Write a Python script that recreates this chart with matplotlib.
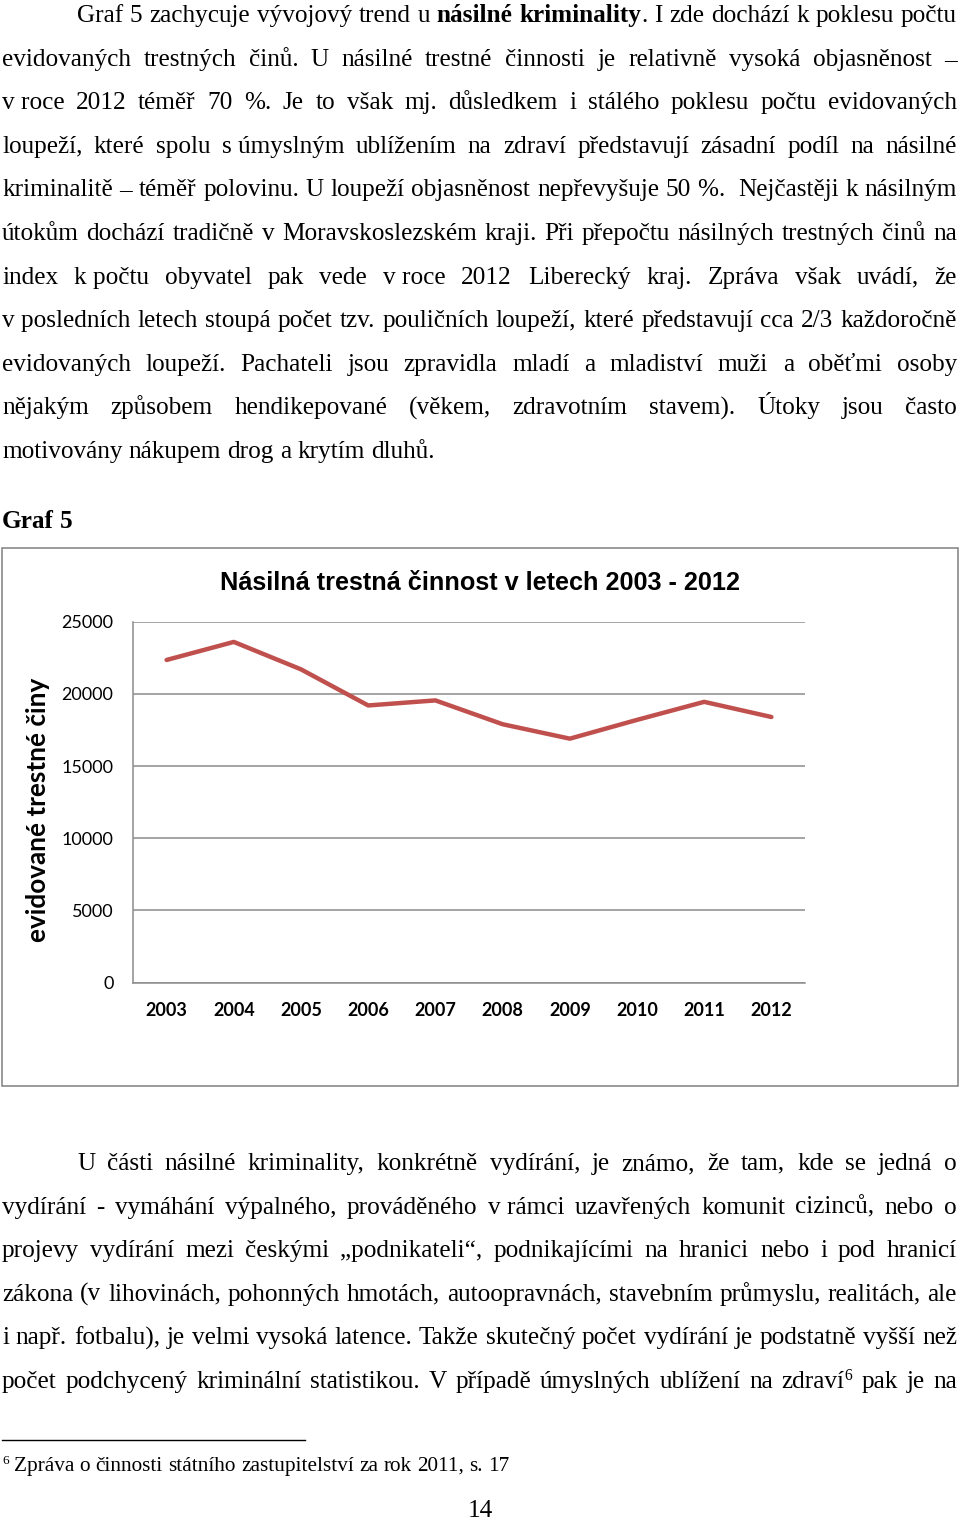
import re
import matplotlib
matplotlib.use("Agg")
import matplotlib.pyplot as plt
from matplotlib import font_manager
from matplotlib.patches import Rectangle
from matplotlib.lines import Line2D

# chart data
years = ["2003", "2004", "2005", "2006", "2007", "2008", "2009", "2010", "2011", "2012"]
cases = [22350, 23600, 21700, 19200, 19550, 17900, 16900, 18200, 19450, 18400]
y_ticks = [0, 5000, 10000, 15000, 20000, 25000]
chart_title = "Násilná trestná činnost v letech 2003 - 2012"
y_label = "evidované trestné činy"

# page text: " " = stretchable gap, "~" = fixed space, *..* = bold, ^6 = superscript
para1 = [
    "Graf 5 zachycuje vývojový trend u *násilné* *kriminality*. I zde dochází k poklesu počtu",
    "evidovaných trestných činů. U násilné trestné činnosti je relativně vysoká objasněnost –",
    "v~roce 2012 téměř 70 %. Je to však mj. důsledkem i stálého poklesu počtu evidovaných",
    "loupeží, které spolu s~úmyslným ublížením na zdraví představují zásadní podíl na násilné",
    "kriminalitě – téměř polovinu. U loupeží objasněnost nepřevyšuje 50 %.~ Nejčastěji k násilným",
    "útokům dochází tradičně v Moravskoslezském kraji. Při přepočtu násilných trestných činů na",
    "index k~počtu obyvatel pak vede v~roce 2012 Liberecký kraj. Zpráva však uvádí, že",
    "v~posledních letech stoupá počet tzv. pouličních loupeží, které představují cca 2/3 každoročně",
    "evidovaných loupeží. Pachateli jsou zpravidla mladí a mladiství muži a oběťmi osoby",
    "nějakým způsobem hendikepované (věkem, zdravotním stavem). Útoky jsou často",
    "motivovány nákupem drog a krytím dluhů.",
]
para2 = [
    "U části násilné kriminality, konkrétně vydírání, je známo, že tam, kde se jedná o",
    "vydírání - vymáhání výpalného, prováděného v~rámci uzavřených komunit cizinců, nebo o",
    "projevy vydírání mezi českými „podnikateli“, podnikajícími na hranici nebo i pod hranicí",
    "zákona (v lihovinách, pohonných hmotách, autoopravnách, stavebním průmyslu, realitách, ale",
    "i např. fotbalu), je velmi vysoká latence. Takže skutečný počet vydírání je podstatně vyšší než",
    "počet podchycený kriminální statistikou. V případě úmyslných ublížení na zdraví^6 pak je na",
]
graf_label = "*Graf* *5*"
footnote = "^6 Zpráva o činnosti státního zastupitelství za rok 2011, s. 17"
page_no = "14"

W, H = 960, 1521
fig = plt.figure(figsize=(W / 100, H / 100), dpi=100)
renderer = fig.canvas.get_renderer()
SERIF = "Liberation Serif"


def fx(x):
    return x / W


def fy(y):
    return 1 - y / H


def text_w(s, size, weight="normal", family=SERIF):
    t = fig.text(0, 0, s, fontsize=size, fontweight=weight, family=family)
    w = t.get_window_extent(renderer).width
    t.remove()
    return w


def segments(token):
    # split a token into (text, bold, sup) pieces
    out = []
    bold = False
    for part in re.split(r"(\*|\^\d)", token):
        if part == "*":
            bold = not bold
        elif part.startswith("^"):
            out.append((part[1:], bold, True))
        elif part:
            out.append((part.replace("~", " "), bold, False))
    return out


def seg_w(seg, size):
    s, bold, sup = seg
    return text_w(s, size * (0.62 if sup else 1), "bold" if bold else "normal")


def draw_token(token, x, y, size):
    for seg in segments(token):
        s, bold, sup = seg
        sz = size * (0.62 if sup else 1)
        yy = y - (size * 0.45 if sup else 0)
        fig.text(fx(x), fy(yy), s, fontsize=sz, family=SERIF,
                 fontweight="bold" if bold else "normal", va="baseline", color="black")
        x += seg_w(seg, size)
    return x


def draw_line(line, y, x0, x1, size, justify=True):
    tokens = line.split(" ")
    widths = [sum(seg_w(s, size) for s in segments(t)) for t in tokens]
    space = text_w("x x", size) - text_w("xx", size)
    if justify and len(tokens) > 1:
        gap = (x1 - x0 - sum(widths)) / (len(tokens) - 1)
    else:
        gap = space
    x = x0
    for t, w in zip(tokens, widths):
        draw_token(t, x, y, size)
        x += w + gap


body = 20 * 434 / text_w("motivovány nákupem drog a krytím dluhů.", 20)
lead = 43.6

for i, line in enumerate(para1):
    x0 = 77 if i == 0 else 2
    draw_line(line, 22 + i * lead, x0, 957, body, justify=(i < len(para1) - 1))

draw_line(graf_label, 528, 2, 72, body, justify=False)

for i, line in enumerate(para2):
    x0 = 77 if i == 0 else 2
    draw_line(line, 1170 + i * lead, x0, 957, body, justify=True)

# footnote rule and text
fig.add_artist(Line2D([fx(2), fx(305)], [fy(1440), fy(1440)], color="black", lw=1.0))
foot = 20 * 493 / text_w("Zpráva o činnosti státního zastupitelství za rok 2011, s. 17", 20)
draw_line(footnote, 1471, 2, 505, foot, justify=False)
fig.text(fx(480), fy(1517), page_no, fontsize=body, family=SERIF, ha="center", va="baseline")

# chart frame
fig.add_artist(Rectangle((fx(2), fy(1086)), fx(956), (1086 - 548) / H, transform=fig.transFigure,
                         fill=False, edgecolor="#8a8a8a", lw=1.2))

names = {f.name for f in font_manager.fontManager.ttflist}
tfam = "Liberation Sans Narrow" if "Liberation Sans Narrow" in names else "Liberation Sans"
tsize = 20 * 520 / text_w(chart_title, 20, "bold", tfam)
fig.text(fx(480), fy(590), chart_title, fontsize=tsize, family=tfam, fontweight="bold",
         ha="center", va="baseline")

ax = fig.add_axes([fx(133), fy(982.7), (805 - 133) / W, (982.7 - 621.7) / H])
ax.plot(range(len(years)), cases, color="#C0504D", lw=3.2, solid_capstyle="round", zorder=3)
ax.set_xlim(-0.5, len(years) - 0.5)
ax.set_ylim(0, 25000)
ax.set_yticks(y_ticks)
ax.set_yticklabels([str(v) for v in y_ticks], family="Lato", fontsize=13)
ax.set_xticks(range(len(years)))
ax.set_xticklabels(years, family="Lato", fontweight="bold", fontsize=13)
ax.tick_params(axis="y", length=0, pad=14)
ax.tick_params(axis="x", length=0, pad=14)
ax.grid(axis="y", color="#8c8c8c", lw=1.1)
ax.set_axisbelow(True)
for s in ["top", "right"]:
    ax.spines[s].set_visible(False)
for s in ["left", "bottom"]:
    ax.spines[s].set_color("#8c8c8c")
    ax.spines[s].set_linewidth(1.1)

fig.text(fx(38), fy(810), y_label, rotation=90, family="Lato", fontweight="bold",
         fontsize=18.8, ha="center", va="center")

fig.savefig("out.png", dpi=100)
